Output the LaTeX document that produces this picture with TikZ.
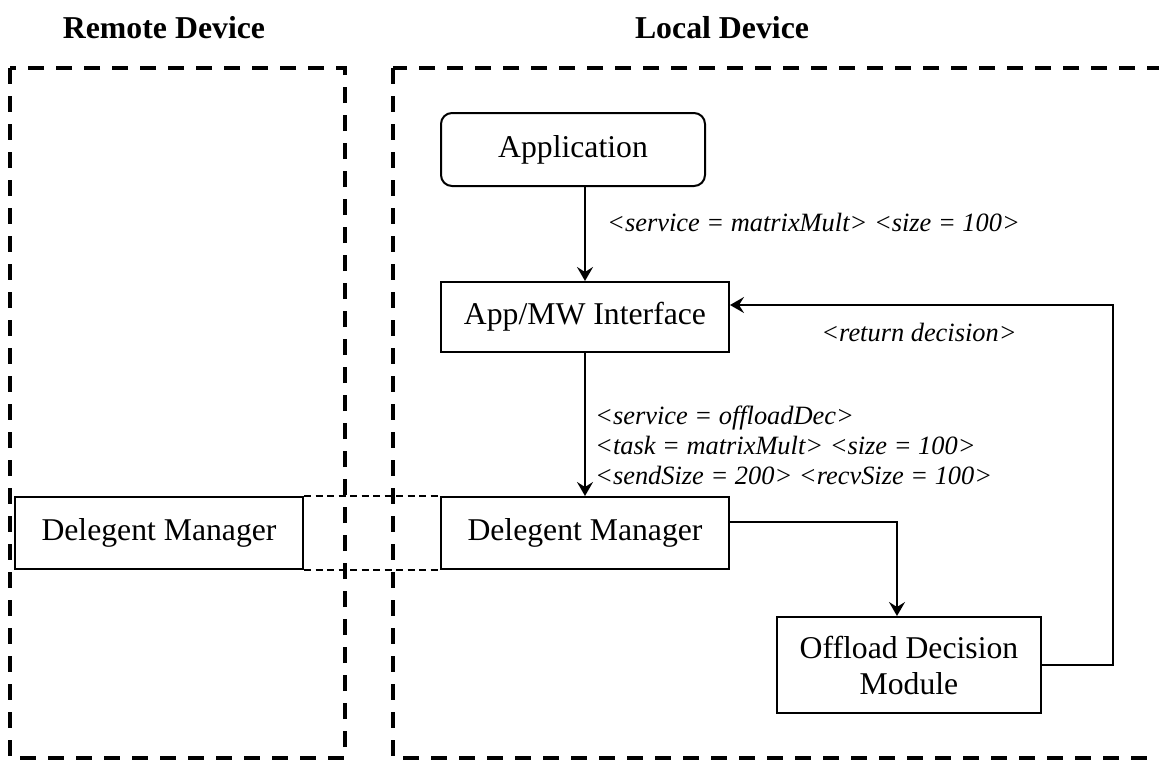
\documentclass[tikz,border=0pt]{standalone}
\usepackage{fontspec}
\setmainfont{Liberation Serif}
\usetikzlibrary{arrows.meta,calc}
\tikzset{
  box/.style={draw, line width=2pt, minimum height=71pt, inner sep=0pt,
    font=\fontsize{31.7}{36}\selectfont, align=center},
  region/.style={draw, line width=3.5pt, dash pattern=on 16pt off 12pt},
  link/.style={draw, line width=1.6pt, dash pattern=on 7pt off 4.5pt},
  flow/.style={draw, line width=2pt, -{Stealth[length=14pt,width=16pt,inset=5pt]}},
  plain/.style={draw, line width=2pt},
  lbl/.style={font=\fontsize{26.4}{30}\selectfont\itshape, inner sep=0pt},
  title/.style={font=\fontsize{31.8}{36}\selectfont\bfseries, inner sep=0pt}
}
\begin{document}
\begin{tikzpicture}[x=1pt,y=-1pt]
\useasboundingbox (0,0) rectangle (1159,761);

% device regions
\node[title] (tremote) at (164,28) {Remote Device};
\node[title] (tlocal) at (722,28) {Local Device};
\path[region] (10,68) rectangle (345,758);
\path[region] (393,68) rectangle (1180,758);

% components
\node[box, rounded corners=11pt, minimum width=264pt, minimum height=73pt] (app) at (573,149.5) {Application};
\node[box, minimum width=288pt, minimum height=70pt] (mw) at (585,317) {App/MW Interface};
\node[box, minimum width=288pt, minimum height=72pt] (ldm) at (585,533) {Delegent Manager};
\node[box, minimum width=288pt, minimum height=72pt] (rdm) at (159,533) {Delegent Manager};
\node[box, minimum width=264pt, minimum height=96pt] (odm) at (909,665) {Offload Decision\\Module};

% link between the two delegent managers
\path[link] (rdm.north east) -- (ldm.north west);
\path[link] (rdm.south east) -- (ldm.south west);

% message flow
\path[flow] (app.south -| mw.north) -- (mw.north);
\node[lbl, anchor=west] (l1) at (607,222) {<service = matrixMult> <size = 100>};

\path[flow] (mw.south) -- (ldm.north);
\node[lbl, anchor=west, align=left] (l2) at (595,445)
  {<service = offloadDec>\\<task = matrixMult> <size = 100>\\<sendSize = 200> <recvSize = 100>};

\coordinate (c1) at (897,521.5);
\path[flow] (ldm.east |- c1) -- (c1) -- (c1 |- odm.north);

\coordinate (c2) at (1113,665);
\coordinate (c3) at (1113,305);
\path[flow] (odm.east |- c2) -- (c2) -- (c3) -- (c3 -| mw.east);
\node[lbl] (l3) at (919,332) {<return decision>};
\end{tikzpicture}
\end{document}
